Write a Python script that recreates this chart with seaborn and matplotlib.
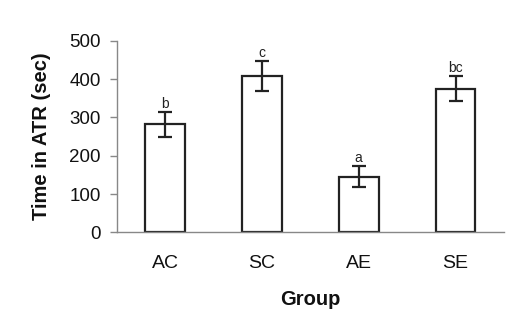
import numpy as np
import pandas as pd
import matplotlib
matplotlib.use("Agg")
import matplotlib.pyplot as plt
import seaborn as sns

groups = ["AC", "SC", "AE", "SE"]
time_atr = [282, 408, 145, 375]
sem = [32, 40, 27, 32]
letters = ["b", "c", "a", "bc"]

sns.set_style("white")
plt.rcParams["font.family"] = ["Liberation Sans", "DejaVu Sans"]

df = pd.DataFrame({"Group": groups, "Time": time_atr})

fig = plt.figure(figsize=(5.07, 3.24), dpi=100)
ax = fig.add_axes([0.230, 0.283, 0.764, 0.591])

sns.barplot(data=df, x="Group", y="Time", color="white", edgecolor="#222222",
            linewidth=1.6, width=0.41, errorbar=None, ax=ax)
for p in ax.patches:
    p.set_facecolor("white")

pos = np.arange(len(groups))
ax.errorbar(pos, time_atr, yerr=sem, fmt="none", ecolor="#222222",
            elinewidth=1.6, capsize=5, capthick=1.6)

# significance letters
for x, v, e, t in zip(pos, time_atr, sem, letters):
    ax.text(x, v + e + 3, t, ha="center", va="bottom", fontsize=10, color="#222222")

ax.set_xlim(-0.5, 3.5)
ax.set_ylim(0, 500)
ax.set_yticks(range(0, 501, 100))

# x ticks at the category boundaries
ax.set_xticks(pos)
ax.tick_params(axis="x", which="major", length=0, pad=16.5, labelsize=14, colors="#111111")
ax.set_xticks(np.arange(-0.5, 4, 1), minor=True)
ax.tick_params(axis="x", which="minor", length=5, color="#888888", width=1)
ax.tick_params(axis="y", length=5, width=1, pad=6.5, labelsize=13.5, left=True,
               colors="#888888", labelcolor="#111111")

sns.despine(ax=ax)
for s in ["left", "bottom"]:
    ax.spines[s].set_color("#888888")
    ax.spines[s].set_linewidth(1)

ax.set_xlabel("Group", fontsize=14.5, fontweight="bold", labelpad=12.5, color="#111111")
ax.set_ylabel("Time in ATR (sec)", fontsize=14.5, fontweight="bold", labelpad=13, color="#111111")

fig.savefig("out.png", dpi=100)
